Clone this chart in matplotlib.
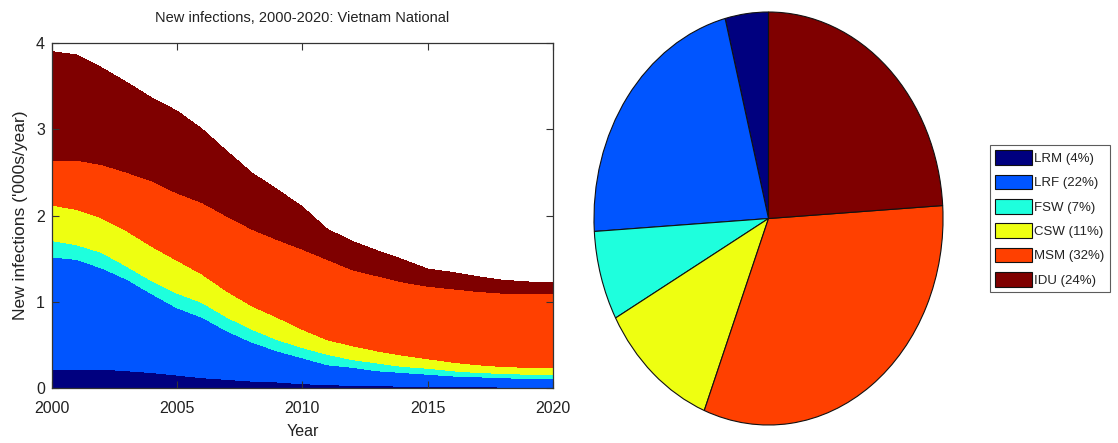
import matplotlib
matplotlib.use('Agg')
import matplotlib.pyplot as plt

plt.rcParams['font.family'] = ['Liberation Sans', 'DejaVu Sans']

# Annual new infections ('000s) by risk group, 2000-2020
years = list(range(2000, 2021))
lrm = [0.22, 0.22, 0.22, 0.20, 0.18, 0.15, 0.12, 0.10, 0.08, 0.07, 0.05,
       0.04, 0.03, 0.03, 0.02, 0.02, 0.02, 0.02, 0.01, 0.01, 0.01]
lrf = [1.30, 1.27, 1.17, 1.06, 0.91, 0.78, 0.70, 0.56, 0.45, 0.36, 0.30,
       0.23, 0.21, 0.17, 0.16, 0.14, 0.12, 0.11, 0.11, 0.10, 0.10]
fsw = [0.19, 0.17, 0.18, 0.15, 0.15, 0.17, 0.17, 0.16, 0.15, 0.13, 0.12,
       0.12, 0.09, 0.09, 0.07, 0.07, 0.06, 0.05, 0.05, 0.05, 0.05]
csw = [0.41, 0.41, 0.40, 0.41, 0.40, 0.38, 0.33, 0.30, 0.27, 0.26, 0.21,
       0.17, 0.16, 0.14, 0.13, 0.11, 0.10, 0.09, 0.08, 0.08, 0.08]
msm = [0.52, 0.57, 0.62, 0.68, 0.76, 0.78, 0.83, 0.87, 0.89, 0.90, 0.93,
       0.93, 0.88, 0.87, 0.85, 0.84, 0.85, 0.85, 0.85, 0.86, 0.86]
idu = [1.26, 1.22, 1.12, 1.04, 0.96, 0.95, 0.85, 0.75, 0.65, 0.58, 0.49,
       0.35, 0.33, 0.29, 0.26, 0.20, 0.19, 0.17, 0.15, 0.13, 0.12]

groups = ['LRM', 'LRF', 'FSW', 'CSW', 'MSM', 'IDU']
shares = [4, 22, 7, 11, 32, 24]  # percent of total infections
colors = ['#00007f', '#0055ff', '#1effdd', '#eeff11', '#ff4000', '#7f0000']

fig = plt.figure(figsize=(11.18, 4.43), dpi=100)

# Stacked area of new infections
ax = fig.add_axes([0.0465, 0.124, 0.448, 0.779])
ax.stackplot(years, lrm, lrf, fsw, csw, msm, idu, colors=colors,
             linewidth=0, antialiased=False)
ax.set_xlim(2000, 2020)
ax.set_ylim(0, 4)
ax.set_xticks([2000, 2005, 2010, 2015, 2020])
ax.set_yticks([0, 1, 2, 3, 4])
ax.tick_params(direction='in', top=True, right=True, length=5, width=0.8,
               labelsize=11.5, labelcolor='#222222', colors='#333333')
ax.tick_params(axis='x', pad=9)
ax.tick_params(axis='y', pad=5)
for s in ax.spines.values():
    s.set_color('#333333')
    s.set_linewidth(0.9)
ax.set_title('New infections, 2000-2020: Vietnam National', fontsize=10.5,
             color='#222222', pad=15)
ax.set_xlabel('Year', fontsize=11.5, color='#222222', labelpad=6)
ax.set_ylabel("New infections ('000s/year)", fontsize=12.5, color='#222222',
              labelpad=6)

# Pie of each group's share
ax2 = fig.add_axes([0.5313, 0.0406, 0.3122, 0.9323])
wedges, _ = ax2.pie(shares, colors=colors, startangle=90, counterclock=True,
                    wedgeprops=dict(edgecolor='#111111', linewidth=0.8))
ax2.set_aspect('auto')
ax2.set_xlim(-1.0, 1.0)
ax2.set_ylim(-1.0, 1.0)

labels = [f'{g} ({p}%)' for g, p in zip(groups, shares)]
leg = fig.legend(wedges, labels, loc='upper left',
                 bbox_to_anchor=(990 / 1118, 1 - 145 / 443),
                 fontsize=9.5, frameon=True, fancybox=False,
                 handlelength=2.8, handleheight=1.35, handletextpad=0.15,
                 labelspacing=0.72, borderpad=0.4, borderaxespad=0)
leg.get_frame().set_edgecolor('#333333')
leg.get_frame().set_linewidth(0.8)
for t in leg.get_texts():
    t.set_color('#222222')

fig.savefig('out.png', dpi=100)
